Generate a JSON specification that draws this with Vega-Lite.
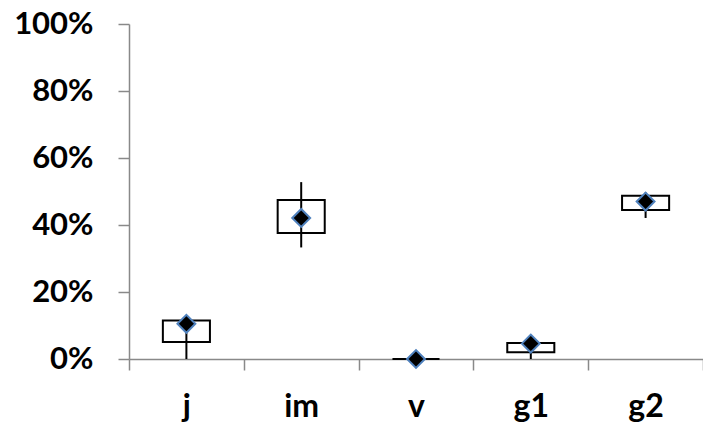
{
  "$schema": "https://vega.github.io/schema/vega-lite/v6.json",
  "width": 574,
  "height": 335,
  "autosize": "none",
  "padding": {"left": 129, "top": 24, "right": 0, "bottom": 67},
  "background": "white",
  "config": {"view": {"stroke": null}, "font": "Lato"},
  "data": {"values": [
    {"cat": "j", "lo": 0.051, "hi": 0.115, "wmin": 0.0, "wmax": 0.105, "mean": 0.105},
    {"cat": "im", "lo": 0.376, "hi": 0.475, "wmin": 0.333, "wmax": 0.528, "mean": 0.421},
    {"cat": "v", "lo": 0.0, "hi": 0.0, "wmin": 0.0, "wmax": 0.0, "mean": 0.0},
    {"cat": "g1", "lo": 0.02, "hi": 0.048, "wmin": 0.0, "wmax": 0.046, "mean": 0.046},
    {"cat": "g2", "lo": 0.445, "hi": 0.487, "wmin": 0.421, "wmax": 0.497, "mean": 0.47}
  ]},
  "encoding": {
    "x": {
      "field": "cat", "type": "nominal", "sort": null,
      "scale": {"paddingInner": 0, "paddingOuter": 0},
      "axis": {
        "title": null, "labelAngle": 0, "labelFont": "Lato", "labelFontWeight": "bold",
        "labelFontSize": 32, "labelColor": "black", "labelPadding": 21,
        "domainColor": "#898989", "domainWidth": 1.5, "tickColor": "#898989", "tickWidth": 1.5,
        "tickSize": 11, "tickBand": "extent"
      }
    }
  },
  "layer": [
    {
      "mark": {"type": "bar", "width": {"band": 0.41}, "fill": "white", "fillOpacity": 0, "stroke": "black", "strokeWidth": 2},
      "encoding": {
        "y": {
          "field": "lo", "type": "quantitative",
          "scale": {"domain": [0, 1], "nice": false},
          "axis": {
            "title": null, "format": ".0%", "values": [0, 0.2, 0.4, 0.6, 0.8, 1],
            "labelFont": "Lato", "labelFontWeight": "bold", "labelFontSize": 31, "labelColor": "black",
            "labelPadding": 25, "tickSize": 11, "domainColor": "#898989", "domainWidth": 1.5,
            "tickColor": "#898989", "tickWidth": 1.5, "grid": false
          }
        },
        "y2": {"field": "hi"}
      }
    },
    {
      "mark": {"type": "rule", "stroke": "black", "strokeWidth": 2},
      "encoding": {
        "y": {"field": "wmin", "type": "quantitative"},
        "y2": {"field": "wmax"}
      }
    },
    {
      "mark": {"type": "point", "shape": "diamond", "filled": true, "fill": "black", "stroke": "#4F81BD", "strokeWidth": 2, "size": 320, "opacity": 1},
      "encoding": {
        "y": {"field": "mean", "type": "quantitative"}
      }
    }
  ]
}
